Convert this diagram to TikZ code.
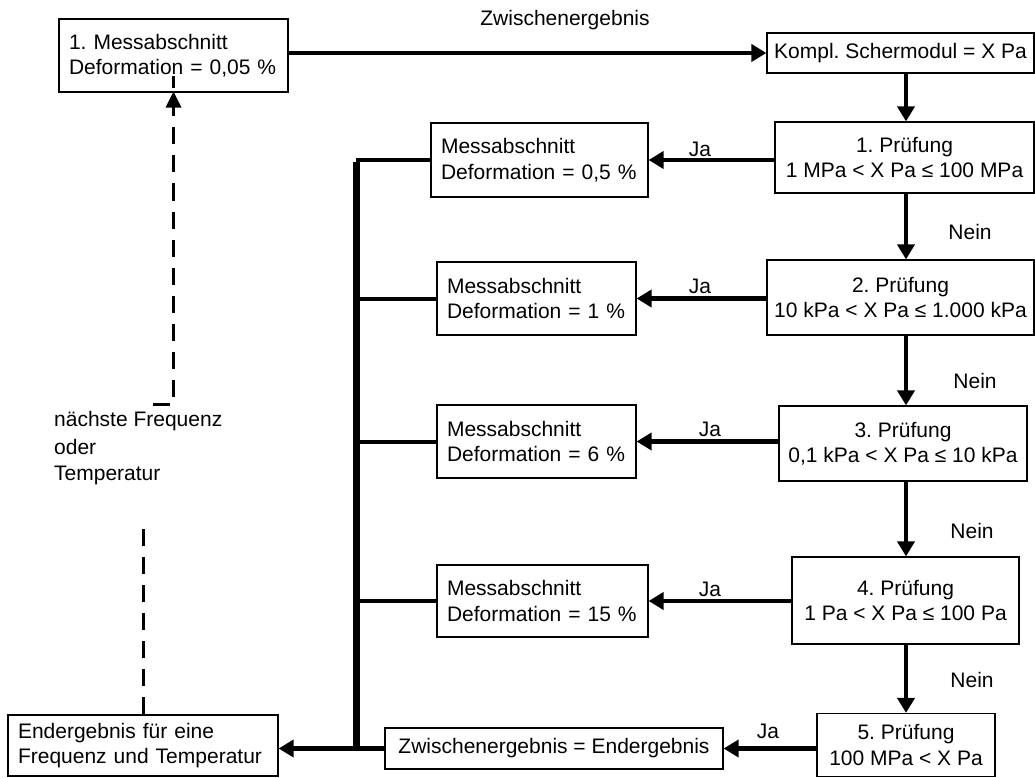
\documentclass[tikz,border=0pt]{standalone}
\usepackage{fontspec}
\setmainfont{Liberation Sans}
\usetikzlibrary{arrows.meta}
\frenchspacing
\begin{document}
\begin{tikzpicture}[x=1pt,y=-1pt,
  txt/.style={font=\fontsize{21}{25.5}\selectfont, inner sep=0pt},
  box/.style={txt, draw, line width=1.2pt},
  lbox/.style={box, align=left, inner xsep=10pt},
  cbox/.style={box, align=center},
  arr/.style={line width=4.5pt, -{Triangle[length=15pt,width=17pt]}},
  stub/.style={line width=4pt},
  bus/.style={line width=7pt},
  dsh/.style={line width=3pt, dash pattern=on 17pt off 11pt},
  lbl/.style={txt, anchor=center}
]
\useasboundingbox (0,0) rectangle (1035,778);

% boxes
\node[lbox, text width=209pt, minimum height=73pt] (B0) at (173.5,55.5)
  {1. Messabschnitt\\Deformation = 0,05 \%};
\node[cbox, minimum width=267pt, minimum height=40pt] (K) at (900.5,53)
  {Kompl. Schermodul = X Pa};
\node[cbox, minimum width=259pt, minimum height=71pt] (P1) at (904.5,157.5)
  {1. Prüfung\\1 MPa < X Pa ≤ 100 MPa};
\node[cbox, minimum width=267pt, minimum height=75pt] (P2) at (900.5,297.5)
  {2. Prüfung\\10 kPa < X Pa ≤ 1.000 kPa};
\node[cbox, minimum width=248pt, minimum height=75pt] (P3) at (903,443.5)
  {3. Prüfung\\0,1 kPa < X Pa ≤ 10 kPa};
\node[cbox, minimum width=227pt, minimum height=87pt] (P4) at (905.5,600.5)
  {4. Prüfung\\1 Pa < X Pa ≤ 100 Pa};
\node[cbox, minimum width=178pt, minimum height=63pt] (P5) at (906,745)
  {5. Prüfung\\100 MPa < X Pa};

\node[lbox, text width=197pt, minimum height=74pt] (M1) at (539.5,160)
  {Messabschnitt\\Deformation = 0,5 \%};
\node[lbox, text width=179pt, minimum height=73pt] (M2) at (536.5,298.5)
  {Messabschnitt\\Deformation = 1 \%};
\node[lbox, text width=179pt, minimum height=73pt] (M3) at (536.5,441.5)
  {Messabschnitt\\Deformation = 6 \%};
\node[lbox, text width=191pt, minimum height=72pt] (M4) at (542.5,601)
  {Messabschnitt\\Deformation = 15 \%};

\node[cbox, minimum width=338pt, minimum height=41pt] (ZE) at (554,748.5)
  {Zwischenergebnis = Endergebnis};
\node[lbox, text width=250pt, minimum height=61pt] (End) at (143,745.5)
  {Endergebnis für eine\\Frequenz und Temperatur};

\node[txt, align=left, anchor=north west] (nf) at (54,411)
  {nächste Frequenz\\[3pt]oder\\Temperatur};

% labels
\node[lbl] (lz) at (565,20) {Zwischenergebnis};
\node[lbl] (j1) at (700,149) {Ja};
\node[lbl] (j2) at (700,286) {Ja};
\node[lbl] (j3) at (710,429) {Ja};
\node[lbl] (j4) at (710,589) {Ja};
\node[lbl] (j5) at (768,731) {Ja};
\node[lbl] (n1) at (970,232) {Nein};
\node[lbl] (n2) at (975,381) {Nein};
\node[lbl] (n3) at (972,531) {Nein};
\node[lbl] (n4) at (972,680) {Nein};

\coordinate (col) at (906,0);
\coordinate (bx) at (356,0);

% top arrow
\draw[arr] (B0.east |- K.west) -- (K.west);
% vertical chain
\draw[arr] (K.south -| col) -- (P1.north -| col);
\draw[arr] (P1.south -| col) -- (P2.north -| col);
\draw[arr] (P2.south -| col) -- (P3.north -| col);
\draw[arr] (P3.south -| col) -- (P4.north -| col);
\draw[arr] (P4.south -| col) -- (P5.north -| col);
% Ja arrows
\draw[arr] (P1.west |- M1.east) -- (M1.east);
\draw[arr] (P2.west |- M2.east) -- (M2.east);
\draw[arr] (P3.west |- M3.east) -- (M3.east);
\draw[arr] (P4.west |- M4.east) -- (M4.east);
\draw[arr] (P5.west |- ZE.east) -- (ZE.east);
% bus
\draw[bus] ([yshift=-2pt]M1.west -| bx) -- (ZE.west -| bx);
\draw[stub] (M1.west) -- (M1.west -| bx);
\draw[stub] (M2.west) -- (M2.west -| bx);
\draw[stub] (M3.west) -- (M3.west -| bx);
\draw[stub] (M4.west) -- (M4.west -| bx);
\draw[arr] (ZE.west) -- (End.east |- ZE.west);

% dashed feedback
\coordinate (d1) at (153,404);
\draw[dsh] (d1) -- (d1 -| B0.south) -- ([yshift=17pt]B0.south);
\fill ([yshift=1pt]B0.south) -- ++(-8,16) -- ++(16,0) -- cycle;
\coordinate (d2) at (143,522);
\draw[dsh] (End.north) -- (End.north |- d2);
\end{tikzpicture}
\end{document}
